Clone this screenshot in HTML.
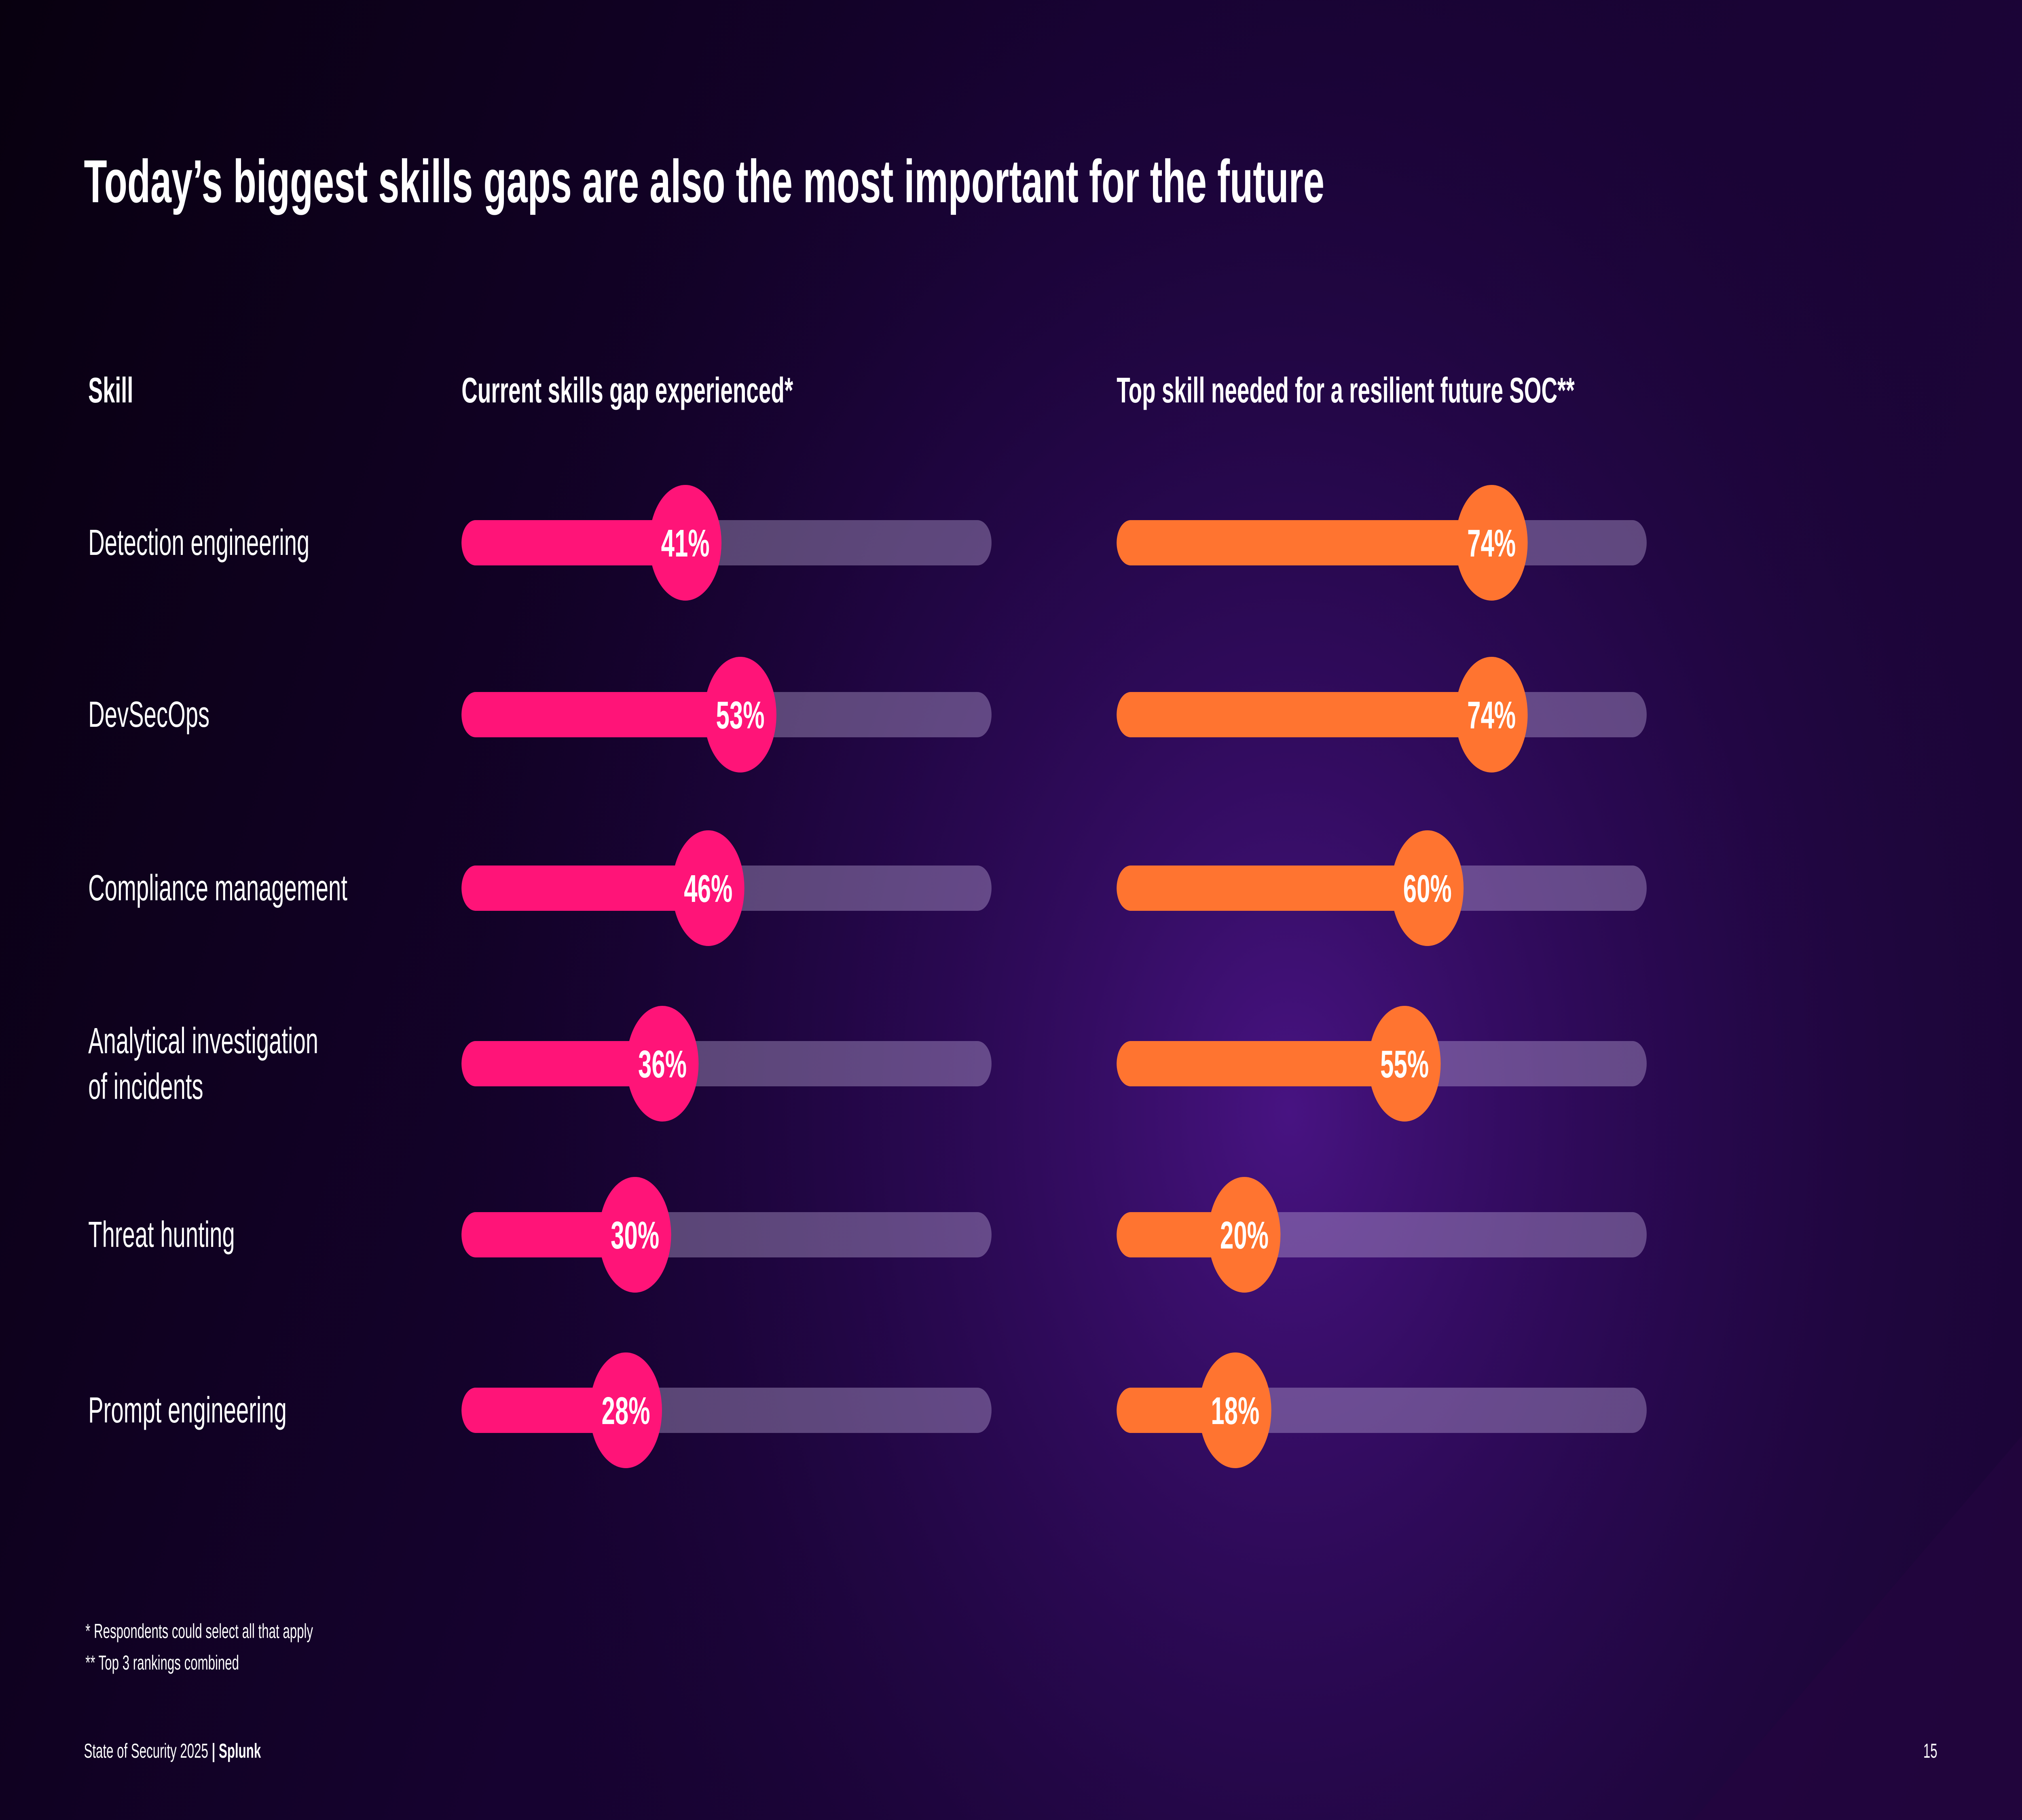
<!DOCTYPE html>
<html><head><meta charset="utf-8">
<style>
html,body{margin:0;padding:0;background:#0d0019;width:100%;height:100%;overflow:hidden;}
svg{display:block;width:100vw;height:100vh;font-family:"Liberation Sans",sans-serif;}
</style></head>
<body>
<svg id="chart" viewBox="0 0 8000 4500" preserveAspectRatio="none" xmlns="http://www.w3.org/2000/svg">
<defs>
<linearGradient id="bgl" x1="0" y1="0" x2="1" y2="0.3">
<stop offset="0" stop-color="#08000f"/><stop offset="0.5" stop-color="#160230"/><stop offset="1" stop-color="#1c0538"/>
</linearGradient>
<radialGradient id="glow" cx="5100" cy="2750" r="3300" gradientUnits="userSpaceOnUse">
<stop offset="0" stop-color="#4a1486" stop-opacity="0.95"/><stop offset="0.5" stop-color="#2e0a5a" stop-opacity="0.6"/><stop offset="1" stop-color="#1a0536" stop-opacity="0"/>
</radialGradient>
</defs>
<rect width="8000" height="4500" fill="url(#bgl)"/>
<rect width="8000" height="4500" fill="url(#glow)"/>
<polygon points="8000,3550 6700,4500 8000,4500" fill="#23063f" opacity="0.7"/>
<text x="332" y="500" font-size="150" font-weight="bold" fill="#fff" textLength="4908" lengthAdjust="spacingAndGlyphs">Today’s biggest skills gaps are also the most important for the future</text>
<text x="349" y="995" font-size="88" font-weight="bold" fill="#fff" textLength="178" lengthAdjust="spacingAndGlyphs">Skill</text>
<text x="1826" y="995" font-size="88" font-weight="bold" fill="#fff" textLength="1312" lengthAdjust="spacingAndGlyphs">Current skills gap experienced*</text>
<text x="4418" y="995" font-size="88" font-weight="bold" fill="#fff" textLength="1812" lengthAdjust="spacingAndGlyphs">Top skill needed for a resilient future SOC**</text>
<g id="rows"></g>
<text x="338" y="4050" font-size="50" fill="#fff">*  Respondents could select all that apply</text>
<text x="338" y="4128" font-size="50" fill="#fff">**  Top 3 rankings combined</text>
<text x="332" y="4346" font-size="50" fill="#fff">State of Security 2025  <tspan font-weight="bold">|  Splunk</tspan></text>
<text x="7665" y="4346" font-size="50" fill="#fff" text-anchor="end">15</text>
</svg>
<script>
const skills = ["Detection engineering","DevSecOps","Compliance management","Analytical investigation|of incidents","Threat hunting","Prompt engineering"];
const currentGap = [41,53,46,36,30,28];
const futureNeed = [74,74,60,55,20,18];

const NS="http://www.w3.org/2000/svg";
const g=document.getElementById('rows');
const rowY=[1342,1767,2196,2630,3053,3487];
const barW=2097, barH=112, R=143;
function xPos(left,v){return left+R+(barW-2*R)*v/100;}
function mk(tag,attrs){const e=document.createElementNS(NS,tag);for(const k in attrs)e.setAttribute(k,attrs[k]);g.appendChild(e);return e;}
function bar(left,v,color,y,name){
  const t=mk('rect',{x:left,y:y-barH/2,width:barW,height:barH,rx:barH/2,fill:'#c6b4e0','fill-opacity':'0.38'});
  
  
  const cx=xPos(left,v);
  const f=mk('rect',{x:left,y:y-barH/2,width:cx-left,height:barH,rx:barH/2,fill:color});
  
  
  const c=mk('circle',{cx:cx,cy:y,r:R,fill:color});
  
  
  const tx=mk('text',{x:cx,y:y+34,'font-size':96,'font-weight':'bold',fill:'#fff','text-anchor':'middle'});
  tx.textContent=v+'%';
  
  
}
skills.forEach((s,i)=>{
  const y=rowY[i];
  const parts=s.split('|');
  const lab=mk('text',{x:349,'font-size':90,fill:'#fff'});
  
  
  if(parts.length===1){lab.setAttribute('y',y+30);lab.textContent=s;}
  else{
    parts.forEach((p,j)=>{const ts=document.createElementNS(NS,'tspan');ts.setAttribute('x',349);ts.setAttribute('y',y-26+j*113);ts.textContent=p;lab.appendChild(ts);});
  }
  bar(1826,currentGap[i],'#ff1478',y,'current-gap');
  bar(4418,futureNeed[i],'#ff7430',y,'future-need');
});
</script>
</body></html>
